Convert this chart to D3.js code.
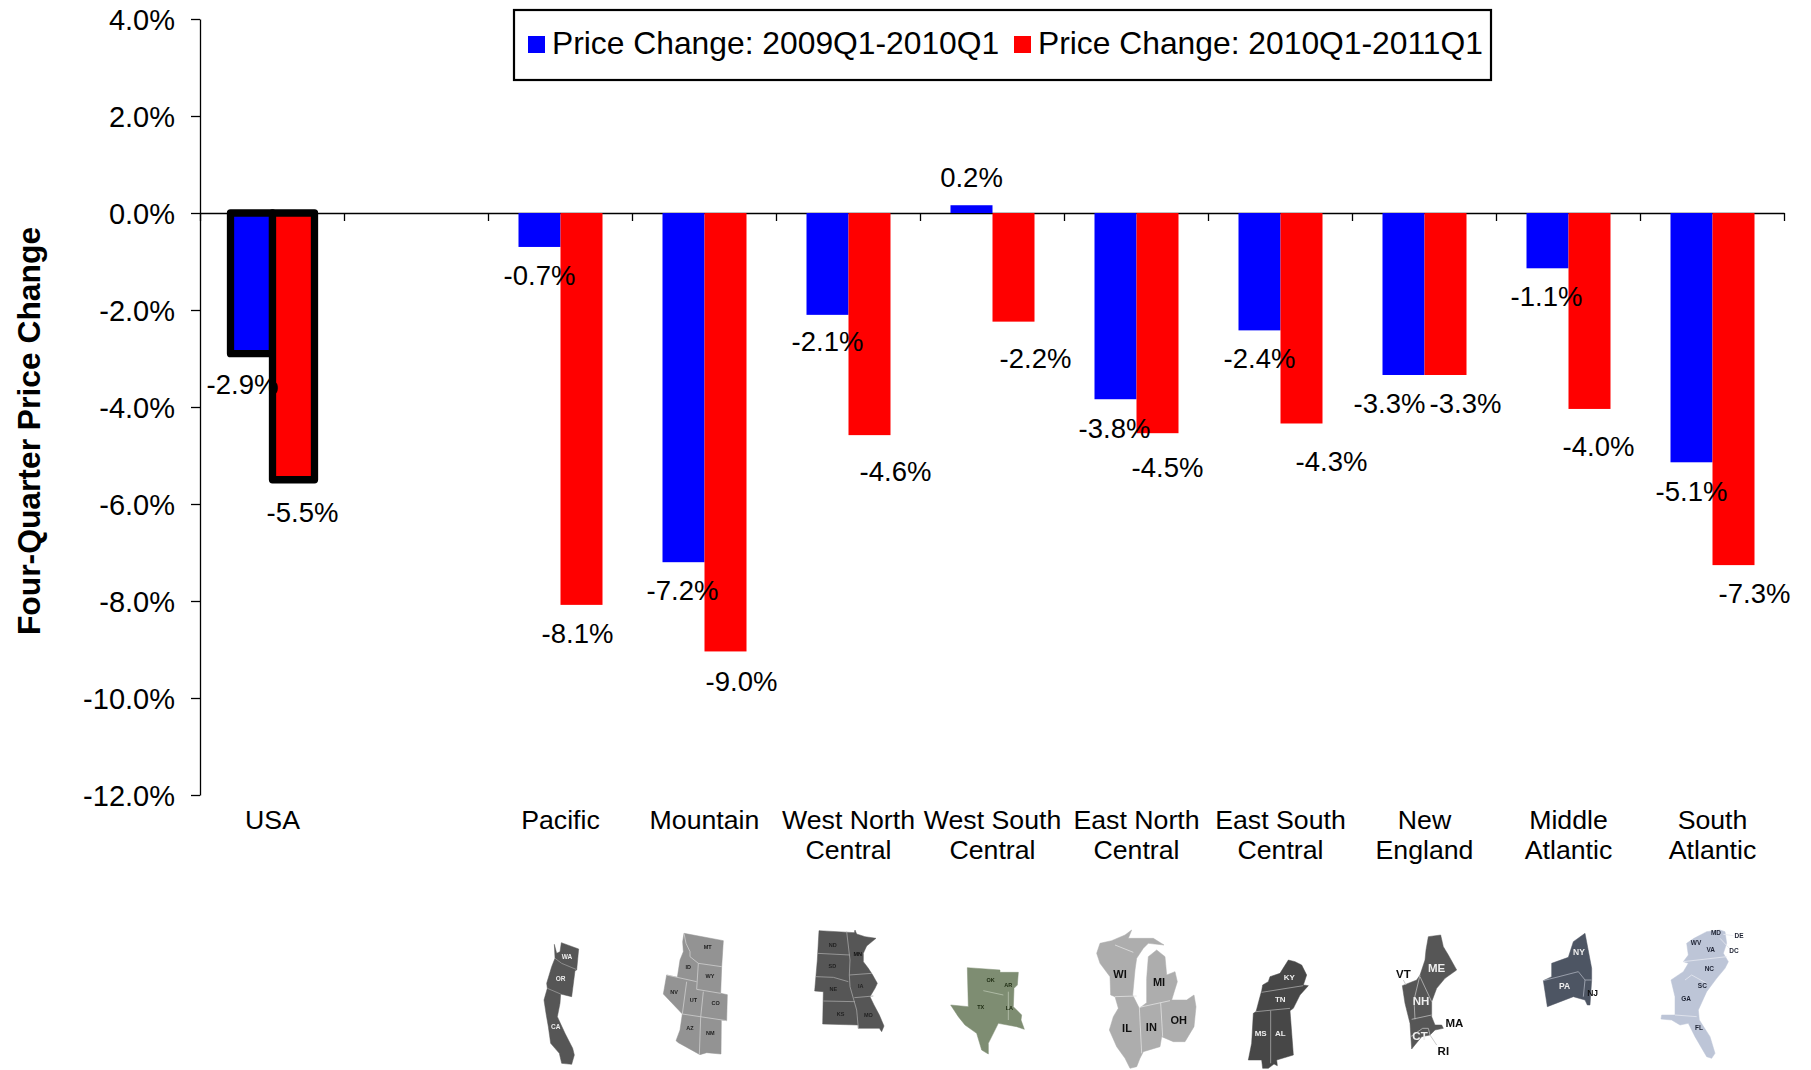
<!DOCTYPE html>
<html><head><meta charset="utf-8">
<script src="https://cdnjs.cloudflare.com/ajax/libs/d3/7.8.5/d3.min.js"></script>
<style>
html,body{margin:0;padding:0;background:#fff;overflow:hidden}
text{font-family:"Liberation Sans",Arial,sans-serif;fill:#000}
</style></head><body>
<svg id="chart" width="1811" height="1070"></svg>
<script>
const categories = ["USA"," ","Pacific","Mountain","West North Central","West South Central","East North Central","East South Central","New England","Middle Atlantic","South Atlantic"];
const categoryLines = [["USA"],[],["Pacific"],["Mountain"],["West North","Central"],["West South","Central"],["East North","Central"],["East South","Central"],["New","England"],["Middle","Atlantic"],["South","Atlantic"]];
const seriesNames = ["Price Change: 2009Q1-2010Q1","Price Change: 2010Q1-2011Q1"];
const seriesColors = ["#0000ff","#ff0000"];
const change0910 = [-2.9,null,-0.7,-7.2,-2.1,0.16,-3.84,-2.42,-3.34,-1.14,-5.14];
const change1011 = [-5.5,null,-8.08,-9.04,-4.58,-2.24,-4.54,-4.34,-3.34,-4.04,-7.26];
const yTicks = [4,2,0,-2,-4,-6,-8,-10,-12];
const yTitle = "Four-Quarter Price Change";

// hand-placed data-label nudges, as in the original
const nudge0910 = [[-9,30],null,[0,28.5],[-1,27.5],[0,26.6],[0,-28],[-1,29],[0,28],[-14,28],[-1,28],[0,29]];
const nudge1011 = [[9,32],null,[-4,27.8],[16,30],[26,35.5],[22,36],[10,34],[30,37.5],[20,28],[9,37],[21,27.5]];

// region map insets: drawn decoration (traced outlines) as [ox, oy] + outline, borders, labels in 3x crop units
const ink = {dark:"#565656",mid:"#939393",light:"#adadad",olive:"#7e8d72",esc:"#474747",ne:"#565656",ma:"#4e5563",sa:"#bdc5d7"};
const mapInsets = [
 {o:[520,920],fill:ink.dark,border:"#9a9a9a",
  outline:[[103,73],[110,100],[120,95],[124,68],[176,87],[170,150],[165,152],[155,230],[122,222],[120,250],[112,290],[135,340],[158,385],[163,405],[155,433],[125,430],[118,400],[92,370],[85,320],[78,280],[72,240],[82,205],[80,190],[95,140],[105,115]],
  borders:[[[105,115],[125,130],[168,148]],[[82,205],[122,222]]],
  labels:[["WA",141,111,"#eee",6.5],["OR",122,176,"#eee",6.5],["CA",107,319,"#eee",6.5]]},
 {o:[520,920],fill:ink.mid,border:"#cfcfcf",
  outline:[[492,40],[610,62],[605,140],[602,220],[622,224],[620,302],[604,300],[603,402],[560,398],[540,404],[475,368],[468,362],[480,330],[487,282],[430,222],[440,165],[472,172],[480,120],[490,95],[488,65]],
  borders:[[[492,40],[498,70],[510,95],[510,110],[535,130]],[[535,130],[605,140]],[[535,130],[530,208]],[[530,208],[602,220]],[[440,165],[530,185]],[[500,185],[487,282]],[[550,215],[542,292]],[[542,292],[538,404]],[[487,282],[620,302]]],
  labels:[["MT",563,82,"#222",5.5],["ID",505,141,"#222",5.5],["WY",570,168,"#222",5.5],["NV",462,217,"#222",5.5],["UT",520,239,"#222",5.5],["CO",587,249,"#222",5.5],["AZ",510,324,"#222",5.5],["NM",571,340,"#222",5.5]]},
 {o:[520,920],fill:ink.dark,border:"#a5a5a5",
  outline:[[897,32],[1003,38],[1005,30],[1010,42],[1035,50],[1068,55],[1040,78],[1030,100],[1030,125],[1045,145],[1058,165],[1072,190],[1065,205],[1050,230],[1062,255],[1078,285],[1092,318],[1085,335],[1078,325],[1015,325],[1015,315],[908,312],[910,215],[884,213],[892,120]],
  borders:[[[980,35],[990,120],[988,165],[990,200],[1010,270],[1015,325]],[[892,100],[990,105]],[[888,170],[940,172],[985,185]],[[910,243],[1005,245]],[[988,165],[1055,160]],[[1003,233],[1060,228]]],
  labels:[["ND",938,75,"#222",5.5],["MN",1013,102,"#111",5.5],["SD",937,137,"#222",5.5],["IA",1022,197,"#222",5.5],["NE",940,207,"#222",5.5],["KS",962,283,"#222",5.5],["MO",1045,284,"#222",5.5]]},
 {o:[940,920],fill:ink.olive,border:"#b9c4b0",
  outline:[[82,143],[180,150],[180,157],[235,157],[232,195],[222,205],[220,260],[245,285],[243,300],[253,328],[230,320],[175,310],[145,370],[145,402],[125,390],[110,340],[75,315],[55,290],[32,255],[85,260]],
  borders:[[[130,212],[190,225]],[[205,215],[205,300]]],
  labels:[["OK",152,180,"#1c2a10",5.5],["AR",205,195,"#1c2a10",5.5],["TX",122,260,"#1c2a10",5.5],["LA",208,264,"#1c2a10",5.5]]},
 {o:[940,920],fill:ink.light,border:"#e2e2e2",
  outline:[[480,70],[515,62],[555,45],[575,30],[565,55],[600,55],[640,55],[672,75],[625,70],[610,85],[590,115],[585,150],[578,225],[598,265],[620,248],[620,175],[625,110],[650,90],[675,110],[680,165],[705,155],[712,185],[695,240],[740,240],[762,225],[768,260],[762,320],[735,365],[700,365],[665,350],[660,380],[610,395],[600,415],[590,440],[570,445],[555,415],[530,380],[508,330],[520,290],[535,265],[525,230],[512,225],[510,170],[480,130],[470,100]],
  borders:[[[525,75],[580,97]],[[525,230],[590,228]],[[598,262],[605,400]],[[598,262],[690,242]],[[662,248],[668,350]]],
  labels:[["WI",540,163,"#111",11],["MI",657,185,"#111",11],["IL",561,323,"#111",11],["IN",634,320,"#111",11],["OH",716,299,"#111",11]]},
 {o:[1240,920],fill:ink.esc,border:"#a8a8a8",
  outline:[[65,212],[68,195],[85,185],[90,170],[120,160],[145,120],[165,125],[185,135],[200,165],[190,195],[205,197],[180,225],[160,265],[150,272],[160,405],[110,420],[112,437],[102,432],[85,445],[68,445],[65,420],[25,420],[35,370],[40,280],[48,275],[60,230]],
  borders:[[[65,217],[190,197]],[[48,275],[150,265]],[[92,272],[92,430]]],
  labels:[["KY",148,170,"#eee",8],["TN",121,238,"#eee",8],["MS",62,340,"#eee",8],["AL",121,340,"#eee",8]]},
 {o:[1240,920],fill:ink.ne,border:"#bdbdbd",
  outline:[[565,50],[602,45],[610,80],[625,105],[650,150],[615,175],[590,205],[575,245],[575,290],[585,315],[605,315],[610,325],[585,330],[570,345],[545,350],[515,387],[510,310],[495,250],[487,197],[530,180],[540,165],[555,120],[558,90]],
  borders:[[[540,165],[522,240],[525,298]],[[540,170],[575,245]],[[515,298],[575,285]],[[512,350],[548,325],[565,325],[570,345]],[[490,180],[498,195]],[[570,345],[590,375]]],
  labels:[["ME",590,143,"#eee",11.5],["NH",543,242,"#eee",11.5],["CT",540,347,"#eee",11.5],["VT",490,163,"#111",11.5],["MA",643,308,"#111",11.5],["RI",610,393,"#111",11.5]]},
 {o:[1240,920],fill:ink.ma,border:"#aab0bb",
  outline:[[1035,40],[1055,145],[1055,180],[1050,255],[1042,255],[1035,240],[1000,230],[922,260],[910,182],[935,170],[935,130],[985,112],[1000,65]],
  borders:[[[910,182],[1015,155],[1035,180],[1055,180]],[[1035,180],[1030,230]]],
  labels:[["NY",1017,95,"#eee",8.5],["PA",974,199,"#eee",8.5],["NJ",1058,219,"#111",8.5]]},
 {o:[1560,920],fill:ink.sa,border:"#e6e9f0",
  outline:[[402,55],[440,35],[480,30],[495,35],[500,70],[490,100],[505,125],[495,145],[470,175],[440,215],[415,270],[418,300],[450,350],[465,400],[455,415],[440,410],[405,350],[385,310],[360,315],[335,300],[303,297],[305,285],[345,285],[345,230],[333,180],[370,155],[385,130],[370,125],[385,105],[380,70]],
  borders:[[[370,125],[500,110]],[[375,180],[395,165],[440,190]],[[345,285],[410,290]],[[490,43],[520,47]],[[480,55],[508,85]]],
  labels:[["MD",468,38,"#1d2233",6.5],["DE",537,48,"#1d2233",6.5],["WV",408,68,"#1d2233",6.5],["VA",452,88,"#1d2233",6.5],["DC",522,93,"#1d2233",6.5],["NC",448,146,"#1d2233",6.5],["SC",427,198,"#1d2233",6.5],["GA",378,235,"#1d2233",6.5],["FL",417,322,"#1d2233",6.5]]}
];

const svg = d3.select("#chart");
const y = d3.scaleLinear().domain([4,-12]).range([19,795]);
const x = d3.scaleBand().domain(categories).range([200.5,1784.5]);
const edges = d3.scaleLinear().domain([0,categories.length]).range([200,1784]);
const inner = d3.scaleBand().domain([0,1]).range([30,114]);
const pct = d3.formatLocale({decimal:".",thousands:",",grouping:[3],currency:["$",""],minus:"-"}).format(".1f");

// axes
const yAxis = svg.append("g").attr("transform","translate(200,0)")
  .call(d3.axisLeft(y).tickValues(yTicks).tickSize(9).tickSizeOuter(0).tickPadding(16).tickFormat(d=>pct(d)+"%"));
yAxis.selectAll("text").style("font-size","29px").attr("dy","0.36em");
yAxis.selectAll("path,line").attr("stroke","#000").attr("stroke-width",1.3);

const xAxis = svg.append("g").attr("transform",`translate(0,${y(0)})`)
  .call(d3.axisBottom(edges).ticks(categories.length).tickSize(8).tickSizeOuter(0).tickFormat(""));
xAxis.selectAll("path,line").attr("stroke","#000").attr("stroke-width",1.3);

svg.append("text").attr("transform",`translate(40,431) rotate(-90)`).attr("text-anchor","middle")
  .style("font-size","31.8px").style("font-weight","700").text(yTitle);

// bars
[change0910,change1011].forEach((vals,s)=>{
  const g = svg.append("g");
  vals.forEach((v,i)=>{
    if(v===null) return;
    const isUSA = categories[i]==="USA";
    const left = x(categories[i])+inner(s);
    const top = Math.min(y(v),y(0)), h = Math.abs(y(v)-y(0));
    g.append("rect").attr("x",left).attr("y",top).attr("width",inner.bandwidth()).attr("height",h)
      .attr("fill",seriesColors[s])
      .attr("stroke",isUSA?"#000":"none").attr("stroke-width",isUSA?7.3:0).attr("stroke-linejoin","round");
  });
});

// data labels
[[change0910,nudge0910],[change1011,nudge1011]].forEach(([vals,nudge],s)=>{
  vals.forEach((v,i)=>{
    if(v===null) return;
    svg.append("text").attr("text-anchor","middle").attr("dy","0.36em")
      .attr("x",x(categories[i])+inner(s)+inner.bandwidth()/2+nudge[i][0])
      .attr("y",y(v)+nudge[i][1])
      .style("font-size","27.5px").text(pct(v)+"%");
  });
});

// category labels
categoryLines.forEach((lines,i)=>{
  lines.forEach((t,j)=>{
    svg.append("text").attr("text-anchor","middle").attr("dy","0.36em")
      .attr("x",x(categories[i])+x.bandwidth()/2).attr("y",819+j*30)
      .style("font-size","26.7px").text(t);
  });
});

// legend
const lg = svg.append("g");
lg.append("rect").attr("x",514).attr("y",10).attr("width",977).attr("height",70)
  .attr("fill","#fff").attr("stroke","#000").attr("stroke-width",2.2);
[[528,552],[1014,1038]].forEach(([sx,tx],s)=>{
  lg.append("rect").attr("x",sx).attr("y",36).attr("width",17).attr("height",17).attr("fill",seriesColors[s]);
  lg.append("text").attr("x",tx).attr("y",43).attr("dy","0.36em").style("font-size","31.8px").text(seriesNames[s]);
});

// map insets
const defs = svg.append("defs");
defs.append("filter").attr("id","soft").append("feGaussianBlur").attr("stdDeviation",0.45);
const mapG = svg.append("g").attr("filter","url(#soft)");
const line = d3.line();
mapInsets.forEach(m=>{
  const pt = p=>[m.o[0]+p[0]/3, m.o[1]+p[1]/3];
  mapG.append("path").attr("d",line(m.outline.map(pt))+"Z").attr("fill",m.fill).attr("stroke",m.fill).attr("stroke-width",0.5).attr("stroke-linejoin","round");
  m.borders.forEach(b=>mapG.append("path").attr("d",line(b.map(pt))).attr("fill","none").attr("stroke",m.border).attr("stroke-width",0.8));
  m.labels.forEach(l=>{
    const q = pt([l[1],l[2]]);
    mapG.append("text").attr("x",q[0]).attr("y",q[1]).attr("dy","0.36em").attr("text-anchor","middle")
      .style("font-size",l[4]+"px").style("font-weight","700").style("fill",l[3]).text(l[0]);
  });
});
</script>
</body></html>
